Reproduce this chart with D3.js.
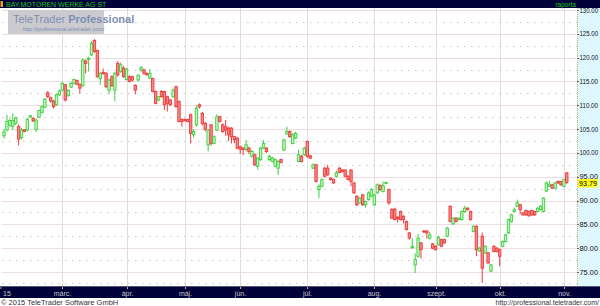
<!DOCTYPE html>
<html>
<head>
<meta charset="utf-8">
<script src="https://cdn.jsdelivr.net/npm/d3@7"></script>
<style>
  html, body { margin: 0; padding: 0; background: #fff; }
  svg { display: block; font-family: "Liberation Sans", Arial, sans-serif; }
</style>
</head>
<body>
<svg id="chart"></svg>
<script>
// daily OHLC, BMW St, Feb 2 - Nov 2015
const opens = [
  103.6,104.8,105.8,105.6,106.2,105.5,103.2,104.9,104.8,107.5,107.2,104.9,107.5,108.5,109.6,112.6,111.6,110.9,110.1,112.2,
  113.2,114.3,112.0,113.8,114.6,115.2,114.4,114.2,119.3,119.6,120.6,123.6,121.5,115.6,116.9,116.7,113.2,116.0,113.2,118.8,
  117.1,117.8,115.4,116.0,116.0,114.2,115.3,117.4,117.4,116.7,115.7,115.6,112.9,111.1,112.9,112.9,111.8,111.1,111.8,113.9,
  110.8,107.0,107.0,107.0,108.0,103.8,105.9,110.1,108.3,106.2,101.7,105.9,102.0,104.8,107.6,105.9,105.5,105.2,105.2,103.4,
  103.1,101.3,101.0,100.7,101.0,99.3,99.6,97.2,98.6,101.0,101.0,98.6,98.2,97.2,96.8,98.6,100.6,104.0,104.5,102.0,
  103.1,98.2,99.3,99.6,102.4,99.4,96.8,97.5,92.3,93.0,96.8,96.8,94.7,94.4,95.1,96.8,96.4,96.4,95.1,96.4,
  93.7,90.9,89.5,91.2,89.1,90.2,90.9,89.1,91.6,93.2,91.9,93.6,92.3,88.1,88.2,86.5,87.7,86.7,85.6,83.2,
  80.1,76.5,78.3,81.1,83.6,83.6,82.1,80.9,80.4,80.7,81.8,81.8,82.5,88.8,85.1,86.3,86.0,86.0,87.7,88.4,
  87.7,83.5,84.6,79.4,82.5,79.0,79.0,75.2,80.4,80.0,79.7,80.4,81.4,83.2,85.6,87.7,88.8,89.1,87.4,87.9,
  87.7,87.9,87.7,87.7,88.1,87.7,92.0,93.0,93.3,92.6,94.0,94.0,93.0,95.8
];
const highs = [
  105.0,108.0,107.2,108.3,107.6,106.0,105.3,105.0,107.4,108.0,107.6,107.2,109.1,110.0,111.5,113.0,111.8,111.1,112.5,113.3,
  114.9,114.5,113.4,114.9,115.6,115.4,114.6,119.8,119.6,120.2,123.5,123.9,121.7,117.0,117.7,117.0,115.6,116.3,117.0,119.3,
  119.0,118.2,117.8,116.3,116.2,114.4,116.5,118.2,117.7,116.9,117.6,115.8,113.1,112.0,113.2,113.0,112.0,111.3,113.5,114.1,
  111.0,107.2,107.2,107.2,108.3,105.0,110.0,110.4,108.6,106.5,105.0,106.0,103.7,108.1,107.8,106.2,106.9,105.5,105.4,103.6,
  103.3,101.5,101.2,102.7,101.3,100.6,99.9,99.1,101.3,102.7,101.2,99.6,99.2,98.8,98.5,98.8,103.0,105.5,104.7,104.1,
  104.4,100.6,99.6,101.3,102.6,99.6,97.8,97.7,93.4,94.6,97.0,97.5,94.9,94.6,96.3,97.0,96.6,96.6,95.3,96.6,
  93.9,91.1,90.7,91.4,90.0,91.9,92.6,91.4,93.6,93.4,94.0,94.0,92.5,88.4,88.5,86.8,87.9,86.9,85.8,83.4,
  82.1,78.9,83.0,81.3,83.8,83.8,83.4,81.1,80.6,82.5,82.0,82.0,84.5,89.0,86.5,86.5,86.5,87.9,88.9,88.6,
  87.9,84.8,84.8,80.3,83.3,80.6,79.2,76.7,80.6,80.2,79.9,81.6,83.0,86.2,87.2,88.5,90.2,89.3,87.6,88.1,
  87.9,88.1,87.9,88.6,89.0,90.7,94.0,94.2,93.5,93.9,94.2,94.2,94.6,96.0
];
const lows = [
  103.0,104.5,105.5,104.8,105.8,101.6,102.8,104.3,104.5,107.3,106.5,104.4,107.3,108.3,109.4,111.5,110.5,109.3,109.9,112.0,
  113.0,110.8,111.8,113.6,114.4,114.2,112.5,113.8,116.7,117.1,120.3,121.0,115.8,114.3,116.4,113.6,112.4,113.8,110.8,116.0,
  116.8,115.8,115.2,114.8,115.0,112.3,115.0,117.0,116.4,116.2,115.5,112.7,110.2,110.9,111.6,109.0,108.7,109.9,111.6,109.5,
  106.4,105.5,106.6,106.4,102.0,103.2,105.5,109.3,105.8,104.5,100.3,101.5,101.8,104.6,106.4,104.2,103.6,102.5,102.0,102.0,
  100.8,99.8,99.5,100.3,99.8,99.0,97.2,96.5,98.3,100.8,100.0,98.3,98.0,97.0,95.4,97.8,100.4,103.8,103.2,101.8,
  102.9,98.0,98.0,99.4,99.0,98.7,96.6,93.8,90.5,92.8,94.9,95.2,94.2,93.5,94.9,95.7,95.9,94.9,94.2,93.0,
  91.4,88.8,89.3,88.9,88.5,90.0,90.7,88.9,91.4,92.0,91.7,93.4,89.1,86.1,85.8,85.4,85.8,85.2,83.7,81.8,
  79.9,74.8,78.0,77.8,83.2,82.0,81.8,79.8,79.5,80.5,80.2,80.9,82.3,85.4,84.9,85.4,85.8,85.8,87.5,87.9,
  85.8,83.3,78.3,79.2,72.7,78.8,76.7,75.0,79.1,79.1,76.2,80.2,81.2,83.0,85.4,87.5,88.6,87.1,86.8,86.8,
  86.6,86.8,86.8,87.5,87.9,87.5,91.8,92.8,92.4,92.4,93.5,93.1,92.8,93.5
];
const closes = [
  104.4,106.6,106.8,106.8,107.3,102.9,104.8,104.5,107.0,107.8,106.7,106.9,108.9,109.7,111.3,111.8,110.9,109.7,112.2,113.0,
  114.6,111.1,113.1,114.6,115.4,114.4,113.6,119.5,118.8,119.9,123.0,121.3,116.0,116.7,116.7,113.9,115.3,114.1,116.7,116.4,
  118.5,116.0,117.6,115.0,115.3,113.2,116.3,117.9,116.7,116.4,116.7,112.9,110.4,111.8,111.8,110.1,110.4,110.1,113.2,109.7,
  106.6,106.6,106.8,106.6,104.1,104.5,109.4,109.7,106.2,105.0,104.8,102.0,103.4,107.6,106.6,104.5,104.8,103.8,103.4,102.8,
  101.0,100.8,100.7,101.7,100.3,100.3,97.5,98.9,101.0,102.0,100.3,99.3,98.9,98.6,98.2,98.0,102.7,104.5,103.4,103.8,
  104.1,99.6,98.2,101.0,99.3,98.9,97.5,94.0,93.0,94.4,95.1,95.4,94.4,93.7,95.8,95.9,96.1,95.1,94.4,94.0,
  91.6,89.1,90.5,89.1,89.8,91.6,92.3,91.2,93.3,92.3,93.1,93.8,89.5,86.3,86.0,86.2,86.0,86.0,83.9,82.1,
  80.4,77.6,82.1,79.7,83.4,83.2,82.8,80.0,79.7,82.3,80.4,81.1,84.2,85.6,86.3,85.6,86.3,87.7,88.4,88.1,
  86.0,84.6,79.7,80.0,75.8,80.4,76.9,76.5,79.3,79.3,78.3,81.4,82.8,86.0,87.0,88.1,89.5,88.1,87.0,87.0,
  86.8,87.0,87.0,88.4,88.8,90.5,93.7,93.3,92.6,93.7,93.7,93.3,94.4,93.79
];

// month labels and index of first trading day shown in that month
const monthLabels = ["15", "márc.", "ápr.", "máj.", "jún.", "júl.", "aug.", "szept.", "okt.", "nov."];
const monthStarts = [0, 20, 42, 62, 81, 104, 127, 148, 170, 192];

const priceTicks = [75, 80, 85, 90, 95, 100, 105, 110, 115, 120, 125, 130];
const halfTicks = [77.5, 82.5, 87.5, 92.5, 97.5, 102.5, 107.5, 112.5, 117.5, 122.5, 127.5];

const lastPrice = 93.79;

class CandleChart {

    constructor(_config, _data) {
        this.config = {
            parentElement: _config.parentElement,
            containerWidth: 600,
            containerHeight: 306,
            plot: { left: 2, right: 577, top: 8, bottom: 286 },
            navy: "#000038",
            panel: "#def6fd",
        };
        this.data = _data;
        this.initVis();
    }

    initVis() {
        const c = this.config;
        this.svg = d3.select(c.parentElement)
            .attr("width", c.containerWidth)
            .attr("height", c.containerHeight);

        this.x = d3.scaleLinear()
            .domain([-0.7, this.data.length + 2.5])
            .range([c.plot.left, c.plot.right]);

        this.y = d3.scaleLinear()
            .domain([75, 130])
            .range([272, 10]);

        this.renderVis();
    }

    renderVis() {
        const c = this.config, svg = this.svg, x = this.x, y = this.y;

        svg.append("rect")
            .attr("x", 0).attr("y", 0)
            .attr("width", c.containerWidth).attr("height", c.containerHeight)
            .attr("fill", "#fff");

        // grid
        const grid = svg.append("g");
        grid.selectAll(".hgrid")
            .data(priceTicks)
            .join("line")
            .attr("x1", c.plot.left).attr("x2", c.plot.right)
            .attr("y1", (d) => Math.round(y(d)) + 0.5).attr("y2", (d) => Math.round(y(d)) + 0.5)
            .attr("stroke", "#ecdede");
        grid.selectAll(".hdot")
            .data(halfTicks)
            .join("line")
            .attr("x1", c.plot.left).attr("x2", c.plot.right)
            .attr("y1", (d) => Math.round(y(d)) + 0.5).attr("y2", (d) => Math.round(y(d)) + 0.5)
            .attr("stroke", "#c8c8c8")
            .attr("stroke-dasharray", "1.5,5.5");
        grid.selectAll(".vgrid")
            .data(monthStarts.slice(1))
            .join("line")
            .attr("x1", (d) => Math.round(x(d)) + 0.5).attr("x2", (d) => Math.round(x(d)) + 0.5)
            .attr("y1", c.plot.top).attr("y2", c.plot.bottom)
            .attr("stroke", "#e6dada");
        grid.append("line")
            .attr("x1", c.plot.left).attr("x2", c.plot.right)
            .attr("y1", 283.5).attr("y2", 283.5)
            .attr("stroke", "#c8c8c8")
            .attr("stroke-dasharray", "1.5,5.5");

        // watermark
        const wm = svg.append("g");
        wm.append("rect")
            .attr("x", 8).attr("y", 10).attr("width", 96).attr("height", 24)
            .attr("fill", "#cbcbcf");
        wm.append("text")
            .attr("x", 13).attr("y", 23)
            .attr("font-size", 11)
            .attr("fill", "#7f8db5")
            .html('TeleTrader <tspan font-weight="bold">Professional</tspan>');
        wm.append("text")
            .attr("x", 23).attr("y", 31)
            .attr("font-size", 5.5)
            .attr("fill", "#7f8db5")
            .text("http://professional.teletrader.com/");

        // candles
        const candles = svg.append("g").selectAll("g")
            .data(this.data)
            .join("g")
            .attr("transform", (d, i) => `translate(${x(i)},0)`);

        const up = (d) => d.close >= d.open;
        const stroke = (d) => up(d) ? "#3ccf3c" : "#ee3a3a";
        const fill = (d) => up(d) ? "#c6f6c6" : "#f58a8a";

        candles.append("line")
            .attr("y1", (d) => y(d.high)).attr("y2", (d) => y(d.low))
            .attr("stroke", stroke)
            .attr("stroke-width", 1);
        candles.append("rect")
            .attr("x", -1.2)
            .attr("width", 2.4)
            .attr("y", (d) => y(Math.max(d.open, d.close)))
            .attr("height", (d) => Math.max(0.6, Math.abs(y(d.open) - y(d.close))))
            .attr("fill", fill)
            .attr("stroke", stroke)
            .attr("stroke-width", 0.9);

        // right price panel
        svg.append("rect")
            .attr("x", c.plot.right).attr("y", c.plot.top)
            .attr("width", c.containerWidth - c.plot.right).attr("height", c.plot.bottom - c.plot.top)
            .attr("fill", c.panel);
        svg.append("line")
            .attr("x1", c.plot.right + 0.5).attr("x2", c.plot.right + 0.5)
            .attr("y1", c.plot.top).attr("y2", c.plot.bottom)
            .attr("stroke", "#c8b860")
            .attr("stroke-dasharray", "1,1");
        svg.append("g").selectAll("text")
            .data(priceTicks)
            .join("text")
            .attr("x", 579.5).attr("y", (d) => y(d) + 2.5)
            .attr("font-size", 6.6)
            .attr("textLength", 18.5)
            .attr("lengthAdjust", "spacingAndGlyphs")
            .attr("fill", "#111")
            .text((d) => d.toFixed(2));
        svg.append("g").selectAll("line")
            .data(priceTicks)
            .join("line")
            .attr("x1", 577).attr("x2", 579)
            .attr("y1", (d) => Math.round(y(d)) + 0.5).attr("y2", (d) => Math.round(y(d)) + 0.5)
            .attr("stroke", "#666");

        // last price marker
        svg.append("rect")
            .attr("x", 578).attr("y", y(lastPrice) - 3.5)
            .attr("width", 20).attr("height", 8.5)
            .attr("fill", "#ffff20");
        svg.append("text")
            .attr("x", 579).attr("y", y(lastPrice) + 3.4)
            .attr("font-size", 6.6)
            .attr("textLength", 18)
            .attr("lengthAdjust", "spacingAndGlyphs")
            .attr("fill", "#000")
            .text(lastPrice.toFixed(2));

        // title bar
        svg.append("rect")
            .attr("x", 0).attr("y", 0).attr("width", c.containerWidth).attr("height", c.plot.top)
            .attr("fill", c.navy);
        svg.append("rect")
            .attr("x", 0.5).attr("y", 1).attr("width", 2.5).attr("height", 6)
            .attr("fill", "#f0a020");
        svg.append("text")
            .attr("x", 6).attr("y", 6.8)
            .attr("font-size", 7)
            .attr("fill", "#19c419")
            .text("BAY.MOTOREN WERKE AG ST");
        svg.append("text")
            .attr("x", 576).attr("y", 6.8)
            .attr("text-anchor", "end")
            .attr("font-size", 6.5)
            .attr("fill", "#19c419")
            .text("raporta");

        // date axis bar
        svg.append("rect")
            .attr("x", 0).attr("y", c.plot.bottom).attr("width", c.containerWidth).attr("height", 12)
            .attr("fill", c.navy);
        svg.append("line")
            .attr("x1", 0).attr("x2", c.containerWidth)
            .attr("y1", c.plot.bottom + 0.5).attr("y2", c.plot.bottom + 0.5)
            .attr("stroke", "#555577");
        const axis = svg.append("g").selectAll("g")
            .data(monthStarts)
            .join("g")
            .attr("transform", (d, i) => `translate(${i === 0 ? 1 : Math.round(x(d)) + 0.5},${c.plot.bottom})`);
        axis.append("line")
            .attr("y1", 1).attr("y2", 3)
            .attr("stroke", "#c8b860");
        axis.append("text")
            .attr("x", (d, i) => i === 0 ? 2 : 0)
            .attr("y", 9.5)
            .attr("text-anchor", (d, i) => i === 0 ? "start" : "middle")
            .attr("font-size", 7)
            .attr("fill", "#c8c8c8")
            .text((d, i) => monthLabels[i]);

        // footer
        svg.append("text")
            .attr("x", 1).attr("y", 305)
            .attr("font-size", 7.5)
            .attr("fill", "#333")
            .text("© 2015 TeleTrader Software GmbH");
        svg.append("text")
            .attr("x", 599).attr("y", 305)
            .attr("text-anchor", "end")
            .attr("font-size", 7)
            .attr("fill", "#333")
            .text("http://professional.teletrader.com/");
    }
}

const rows = opens.map((o, i) => ({ open: o, high: highs[i], low: lows[i], close: closes[i] }));
new CandleChart({ parentElement: "#chart" }, rows);
</script>
</body>
</html>
